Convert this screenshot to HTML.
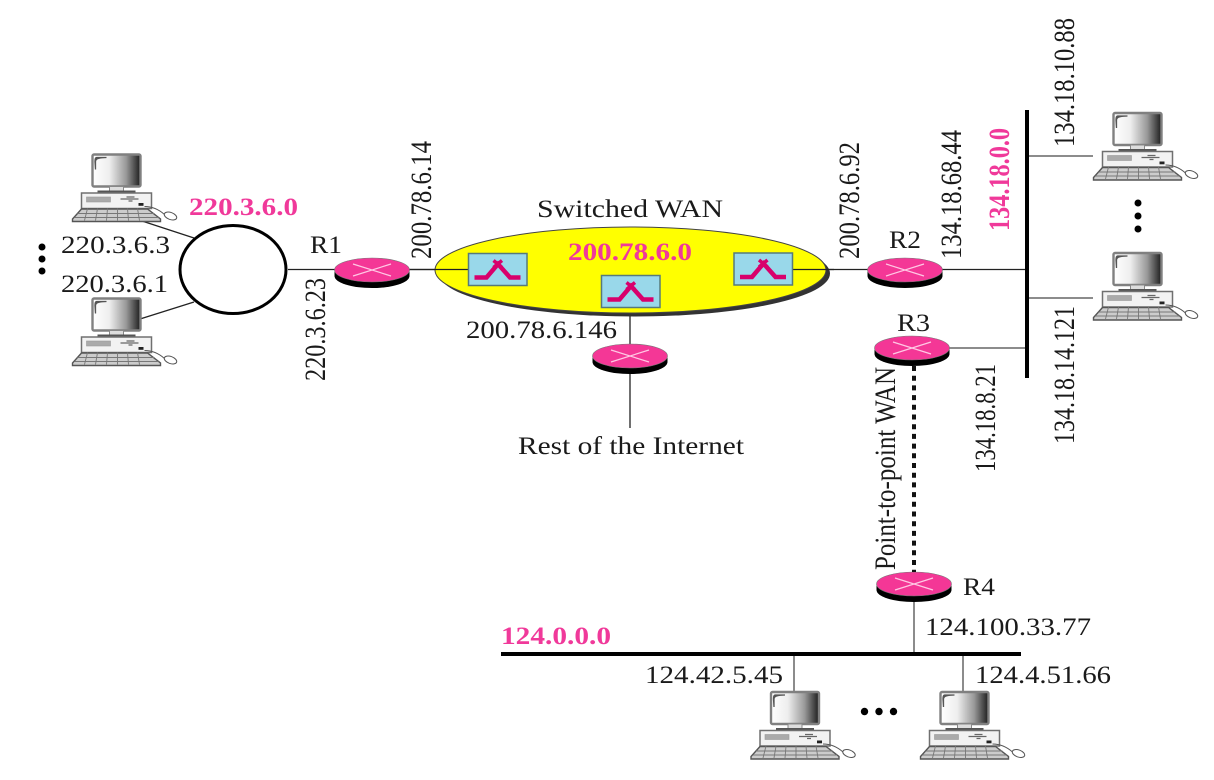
<!DOCTYPE html>
<html><head><meta charset="utf-8"><style>
html,body{margin:0;padding:0;background:#fff}
svg{display:block}
text{font-family:"Liberation Serif",serif;font-size:25.500px;fill:#1a1a1a}
.b{font-weight:bold;fill:#f0399a}
.r{font-size:30px}
</style></head><body>
<svg width="1214" height="780" viewBox="0 0 1214 780" xmlns="http://www.w3.org/2000/svg">
<defs>
<linearGradient id="g"><stop offset="0" stop-color="#fff"/><stop offset=".35" stop-color="#eee"/><stop offset=".7" stop-color="#999"/><stop offset="1" stop-color="#1c1c1c"/></linearGradient>
<g id="pc">
<rect x="0" y="0" width="48" height="32" rx="1.500" fill="url(#g)" stroke="#808080" stroke-width="2.400"/>
<path d="M3 15V7Q3 3 14 3H4Q2.500 3 2.500 7Z" fill="#555" stroke="#555" stroke-width="1.300"/>
<rect x="17" y="32" width="14" height="5" fill="#ddd" stroke="#888"/>
<rect x="5" y="36" width="38" height="3.200" fill="#555"/>
<rect x="-11" y="38.500" width="70" height="15.500" fill="#f2f2f2" stroke="#707070" stroke-width="1.500"/>
<rect x="-6" y="42.500" width="24" height="5" fill="#aaa" stroke="#999" stroke-width=".6"/>
<path d="M28 44.500H46M34 42.500H42M36 46.500H40" stroke="#666" stroke-width="1.200"/>
<rect x="46" y="48.500" width="5" height="2.800" fill="#222"/>
<path d="M-11 54.500H55L68 64.500V67H-20V64.500Z" fill="#ccc" stroke="#555" stroke-width="1.400"/>
<path d="M-15 59H62M-18 63H66M-5 54L-8 66M5 54L3 66M15 54L14 66M25 54L25 66M35 54L36 66M45 54L47 66" stroke="#777" stroke-width=".9"/>
<path d="M52 52Q63 52 72 60" fill="none" stroke="#555"/>
<ellipse cx="78" cy="61.500" rx="6.500" ry="3.500" fill="#fff" stroke="#555" transform="rotate(20 78 61.500)"/>
</g>
<g id="rt">
<path d="M-37.500 0V6A37.500 12 0 0 0 37.500 6V0Z" fill="#000"/>
<ellipse cx="0" cy="0" rx="37.500" ry="12" fill="#f43796" stroke="#777" stroke-width=".6"/>
<path d="M-19 -6L19 6M-19 6L19 -6" stroke="#ffc8e4" stroke-width="1.200"/>
</g>
<g id="sw">
<rect x="0" y="0" width="58.500" height="32" fill="#99d8ea" stroke="#567a7a" stroke-width="1.500"/>
<path d="M6 24H18L29.500 10.500L41.500 24H52" fill="none" stroke="#d8006c" stroke-width="4.500"/>
<path d="M25 7L33.500 14M33.500 7L25 14" stroke="#d8006c" stroke-width="3.500"/>
</g>
</defs>

<g stroke="#222" stroke-width="1.300" fill="none">
<path d="M288 269.500H335M409 269.500H468M792 269.500H869M942 269.500H1027"/>
<path d="M142 221L194 238M140 319L194 302"/>
<path d="M630 307V345M630 370V428"/>
</g>
<g stroke="#666" stroke-width="1.500" fill="none">
<path d="M948 348H1027M1027 156H1093M1027 298H1093"/>
<path d="M914 600V654M794 654V692M963 654V692"/>
</g>
<ellipse cx="233" cy="269.500" rx="53" ry="44" fill="#fff" stroke="#000" stroke-width="3"/>
<ellipse cx="634.500" cy="273.500" rx="195.500" ry="43" fill="#333"/>
<ellipse cx="630.500" cy="270" rx="195.500" ry="43" fill="#ff0" stroke="#444" stroke-width="1"/>
<path d="M409 269.500H468M792 269.500H834" stroke="#222" stroke-width="1.300" fill="none"/>
<use href="#sw" x="468.500" y="253.500"/>
<use href="#sw" x="601.500" y="275.500"/>
<use href="#sw" x="734" y="253"/>
<use href="#rt" x="372" y="270"/>
<use href="#rt" x="905" y="270"/>
<use href="#rt" x="912" y="348"/>
<use href="#rt" x="630" y="356"/>
<use href="#rt" x="914" y="584"/>
<path d="M1027 110V378M501 654H1021" stroke="#000" stroke-width="4" fill="none"/>
<path d="M914 366V572" stroke="#111" stroke-width="4" stroke-dasharray="5 4.700" fill="none"/>
<use href="#pc" x="92.500" y="154.500"/>
<use href="#pc" x="92.500" y="298.500"/>
<use href="#pc" x="1113.500" y="113"/>
<use href="#pc" x="1113.500" y="253"/>
<use href="#pc" x="771" y="692"/>
<use href="#pc" x="940.500" y="692"/>
<g fill="#000">
<circle cx="42" cy="247" r="3.500"/><circle cx="42" cy="259" r="3.500"/><circle cx="42" cy="271" r="3.500"/>
<circle cx="1138" cy="203" r="3.500"/><circle cx="1138" cy="216" r="3.500"/><circle cx="1138" cy="229" r="3.500"/>
<circle cx="864.500" cy="711.500" r="3.700"/><circle cx="879" cy="711.500" r="3.700"/><circle cx="893.500" cy="711.500" r="3.700"/>
</g>

<text class="b" x="189" y="215" textLength="109" lengthAdjust="spacingAndGlyphs">220.3.6.0</text>
<text x="61" y="253" textLength="109" lengthAdjust="spacingAndGlyphs">220.3.6.3</text>
<text x="61" y="292" textLength="107" lengthAdjust="spacingAndGlyphs">220.3.6.1</text>
<text x="310" y="253" textLength="32" lengthAdjust="spacingAndGlyphs">R1</text>
<text x="889" y="248" textLength="32" lengthAdjust="spacingAndGlyphs">R2</text>
<text x="897" y="331" textLength="33" lengthAdjust="spacingAndGlyphs">R3</text>
<text x="963" y="595" textLength="32" lengthAdjust="spacingAndGlyphs">R4</text>
<text x="537" y="217" textLength="186" lengthAdjust="spacingAndGlyphs">Switched WAN</text>
<text class="b" x="568" y="260" textLength="124" lengthAdjust="spacingAndGlyphs">200.78.6.0</text>
<text x="466" y="338" textLength="151" lengthAdjust="spacingAndGlyphs">200.78.6.146</text>
<text x="518" y="454" textLength="226" lengthAdjust="spacingAndGlyphs">Rest of the Internet</text>
<text x="925" y="635" textLength="166" lengthAdjust="spacingAndGlyphs">124.100.33.77</text>
<text class="b" x="501" y="644" textLength="110" lengthAdjust="spacingAndGlyphs">124.0.0.0</text>
<text x="645" y="683" textLength="138" lengthAdjust="spacingAndGlyphs">124.42.5.45</text>
<text x="975" y="683" textLength="136" lengthAdjust="spacingAndGlyphs">124.4.51.66</text>
<text class="r" transform="translate(325 381) rotate(-90)" textLength="103" lengthAdjust="spacingAndGlyphs">220.3.6.23</text>
<text class="r" transform="translate(431 259) rotate(-90)" textLength="118" lengthAdjust="spacingAndGlyphs">200.78.6.14</text>
<text class="r" transform="translate(859 259) rotate(-90)" textLength="117" lengthAdjust="spacingAndGlyphs">200.78.6.92</text>
<text class="r" transform="translate(961 259) rotate(-90)" textLength="129" lengthAdjust="spacingAndGlyphs">134.18.68.44</text>
<text class="r b" transform="translate(1009 231) rotate(-90)" textLength="103" lengthAdjust="spacingAndGlyphs">134.18.0.0</text>
<text class="r" transform="translate(1074 147) rotate(-90)" textLength="129" lengthAdjust="spacingAndGlyphs">134.18.10.88</text>
<text class="r" transform="translate(1074 444) rotate(-90)" textLength="138" lengthAdjust="spacingAndGlyphs">134.18.14.121</text>
<text class="r" transform="translate(995 472) rotate(-90)" textLength="108" lengthAdjust="spacingAndGlyphs">134.18.8.21</text>
<text class="r" transform="translate(895 570) rotate(-90)" textLength="203" lengthAdjust="spacingAndGlyphs">Point-to-point WAN</text>
</svg>
</body></html>
